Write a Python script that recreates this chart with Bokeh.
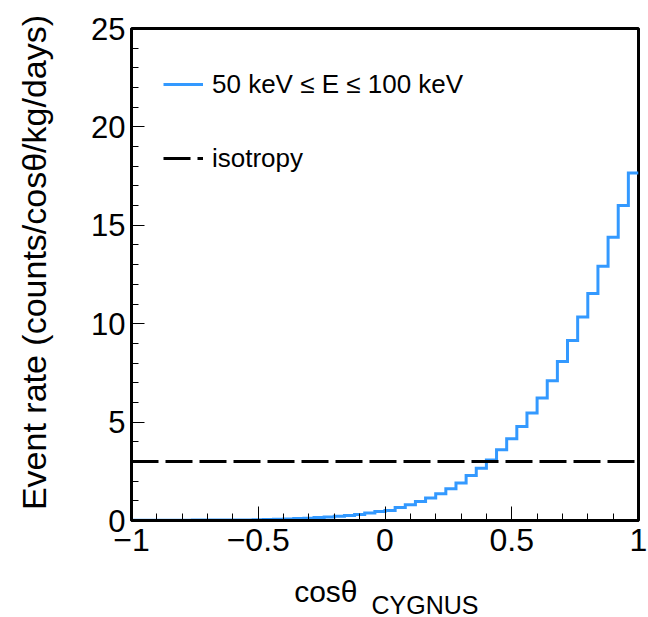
import numpy as np
from bokeh.plotting import figure
from bokeh.layouts import column, row
from bokeh.models import FixedTicker, Legend, LegendItem, Range1d, CustomJSTickFormatter
from bokeh.core.properties import value
from bokeh.embed import file_html
from bokeh.resources import INLINE

# ---- data ----
# event rate per bin, 50 bins of width 0.04 from cos = -1 to 1
rate_neg = [0.01, 0.01, 0.01, 0.01, 0.01, 0.01, 0.02, 0.02, 0.02, 0.02,
            0.03, 0.03, 0.04, 0.05, 0.06, 0.08, 0.10, 0.12, 0.15, 0.18,
            0.21, 0.26, 0.31, 0.38, 0.46]
rate_pos = [0.51, 0.66, 0.80, 0.97, 1.14, 1.36, 1.61, 1.90, 2.29, 2.66,
            3.08, 3.59, 4.15, 4.78, 5.46, 6.22, 7.10, 8.08, 9.14, 10.34,
            11.53, 12.92, 14.39, 16.00, 17.66]
isotropy_rate = 3.0
x_lo, x_hi = -1.0, 1.0
y_lo, y_hi = 0.0, 25.0
x_major = [-1, -0.5, 0, 0.5, 1]
y_major = [0, 5, 10, 15, 20, 25]
hist_label = "50 keV ≤ E ≤ 100 keV"
iso_label = "isotropy"
x_title_main = "cosθ"
x_title_sub = "CYGNUS"
y_title = "Event rate (counts/cosθ/kg/days)"

rate = rate_neg + rate_pos
n_bins = len(rate)
edges = np.linspace(x_lo, x_hi, n_bins + 1)
xs = np.repeat(edges, 2)[1:-1]
ys = np.repeat(rate, 2)

FONT = "Liberation Sans"
W, H = 648, 617
left_w = 60          # strip holding the y-axis title
strip_h = 42         # strip holding the x-axis title
main_w = W - left_w
main_h = H - strip_h
xr = Range1d(x_lo, x_hi)


def bare(fig):
    fig.xgrid.visible = False
    fig.ygrid.visible = False
    fig.outline_line_color = None
    fig.background_fill_color = "white"
    fig.border_fill_color = "white"


p = figure(width=main_w, height=main_h, x_range=xr, y_range=Range1d(y_lo, y_hi),
           output_backend="svg", toolbar_location=None,
           min_border_left=131 - left_w, min_border_right=10, min_border_top=28,
           min_border_bottom=main_h - 520)
p.xgrid.visible = False
p.ygrid.visible = False
p.outline_line_color = "black"
p.outline_line_width = 3
p.background_fill_color = "white"
p.border_fill_color = "white"

r_hist = p.line(xs, ys, line_color="#3399ff", line_width=3, line_join="miter")
r_iso = p.line([x_lo, x_hi], [isotropy_rate, isotropy_rate], line_color="black",
               line_width=3, line_dash="27 7")

legend = Legend(items=[LegendItem(label=hist_label, renderers=[r_hist]),
                       LegendItem(label=iso_label, renderers=[r_iso])],
                location="top_left", margin=32, padding=0, spacing=26,
                glyph_width=40, glyph_height=48, label_height=48, label_standoff=9,
                label_text_font=FONT, label_text_font_size="26px", label_text_color="black",
                background_fill_alpha=0, border_line_alpha=0)
p.add_layout(legend)

for ax in (p.xaxis[0], p.yaxis[0]):
    ax.major_tick_out = 0
    ax.minor_tick_out = 0
    ax.axis_line_width = 3
    ax.axis_line_color = "black"
    ax.major_tick_line_color = "black"
    ax.minor_tick_line_color = "black"
    ax.major_label_text_font = FONT
    ax.major_label_text_color = "black"

xa = p.xaxis[0]
xa.ticker = FixedTicker(ticks=x_major, minor_ticks=[round(v, 2) for v in np.arange(-1, 1.001, 0.1)])
xa.formatter = CustomJSTickFormatter(code="return (tick < 0 ? '\\u2212' : '') + Math.abs(tick).toString();")
xa.major_tick_in = 14
xa.minor_tick_in = 7
xa.major_label_text_font_size = "32px"
xa.major_label_standoff = 8

ya = p.yaxis[0]
ya.ticker = FixedTicker(ticks=y_major, minor_ticks=list(range(0, 26)))
ya.major_tick_in = 13
ya.minor_tick_in = 7
ya.major_label_text_font_size = "31px"
ya.major_label_standoff = 6

# x-axis title strip below the main plot (same x mapping, 1 y-unit = 1 px)
p2 = figure(width=main_w, height=strip_h, x_range=xr, y_range=Range1d(0, strip_h),
            x_axis_type=None, y_axis_type=None, output_backend="svg", toolbar_location=None,
            min_border_left=131 - left_w, min_border_right=10, min_border_top=0, min_border_bottom=0)
bare(p2)
px_x = (x_hi - x_lo) / 507.0
p2.text(x=[x_lo + 226 * px_x], y=[26], text=[x_title_main], text_align="right",
        text_baseline="alphabetic", text_font=value(FONT), text_font_size=value("30px"),
        text_color="black")
p2.text(x=[x_lo + 240 * px_x], y=[13], text=[x_title_sub], text_align="left",
        text_baseline="alphabetic", text_font=value(FONT), text_font_size=value("25px"),
        text_color="black")

# y-axis title strip on the left (1 unit = 1 px)
pl = figure(width=left_w, height=H, x_range=Range1d(0, left_w), y_range=Range1d(0, H),
            x_axis_type=None, y_axis_type=None, output_backend="svg", toolbar_location=None,
            min_border_left=0, min_border_right=0, min_border_top=0, min_border_bottom=0)
bare(pl)
pl.text(x=[33], y=[H - 262], text=[y_title], angle=np.pi / 2, text_align="center",
        text_baseline="middle", text_font=value(FONT), text_font_size=value("34px"),
        text_color="black")

layout = row(pl, column(p, p2, spacing=0), spacing=0)
open("out.html", "w").write(file_html(layout, INLINE))
